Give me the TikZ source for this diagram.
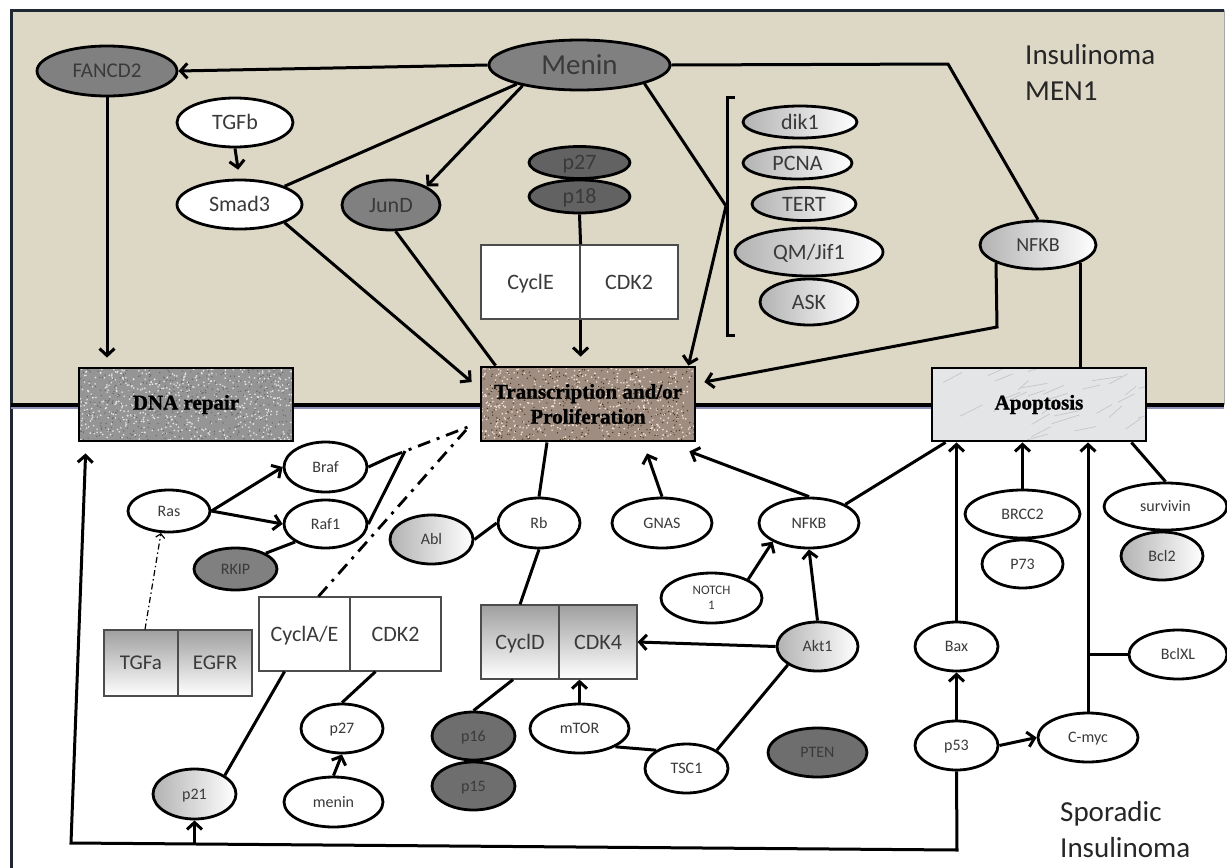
\documentclass[tikz,border=0pt]{standalone}
\usepackage{fontspec}
\setmainfont{Carlito}
\newfontfamily\boxfont[BoldFeatures={FakeBold=1.2}]{Liberation Serif}
\usetikzlibrary{shapes.geometric,arrows.meta,calc}
\definecolor{beige}{HTML}{DDD8C6}
\definecolor{framec}{HTML}{1F2733}
\definecolor{txtc}{HTML}{3A3A3A}
\definecolor{g1}{HTML}{808080}
\definecolor{g2}{HTML}{626262}
\definecolor{g3}{HTML}{6E6E6E}
\definecolor{dnac}{HTML}{959595}
\definecolor{trc}{HTML}{9E8D80}
\definecolor{apc}{HTML}{E3E5E7}
\newcommand\myfs[1]{\fontsize{#1}{#1}\selectfont}
\tikzset{
 f16/.style={font=\myfs{16}, text height=10.3pt, text depth=0pt},
 f20/.style={font=\myfs{20}, text height=12.9pt, text depth=0pt},
 f21/.style={font=\myfs{21}, text height=13.5pt, text depth=0pt},
 f22/.style={font=\myfs{22}, text height=14.2pt, text depth=0pt},
 f29/.style={font=\myfs{29}, text height=18.7pt, text depth=0pt},
 ell0/.style={ellipse, draw=black, line width=2.8pt, inner sep=0pt, text=txtc},
 ell/.style={ell0, f16},
 wh/.style={ell, fill=white},
 gr/.style={ell, fill=g1},
 dg/.style={ell, fill=g2},
 mg/.style={ell, fill=g3},
 sh/.style={ell, left color=gray!60, right color=white},
 sz/.style 2 args={minimum width=#1pt, minimum height=#2pt},
 conn/.style={line width=3pt},
 arr/.style={conn, -{Straight Barb[length=7pt,width=15pt]}},
 ddash/.style={line width=2.8pt, dash pattern=on 13pt off 7pt on 3pt off 7pt},
 tdash/.style={line width=1.2pt, dash pattern=on 6pt off 3pt on 1.5pt off 3pt, -{Straight Barb[length=4pt,width=9pt]}},
 pbox/.style={draw=black, line width=2.8pt, minimum width=214pt, minimum height=73pt, inner sep=0pt, font=\boxfont\bfseries\fontsize{21}{25}\selectfont, align=center},
 half/.style={rectangle, draw=gray!60!black, line width=1.2pt, inner sep=0pt, text=txtc, f22},
 halfw/.style={half, fill=white},
 halfs/.style={half, top color=gray!75, bottom color=white},
 lbl/.style={anchor=base west, text=black!85, font=\myfs{29}, inner sep=0pt},
}
\begin{document}
\begin{tikzpicture}[x=1pt,y=-1pt]
\useasboundingbox (0,0) rectangle (1227,868);
\fill[white] (0,0) rectangle (1227,868);
% panels
\fill[beige] (11,10) rectangle (1224,405);
\draw[line width=1pt, gray!70] (1224,10) -- (1224,405);
\draw[framec, line width=3pt] (11,868) -- (11,10) -- (1224,10);
\draw[line width=3.4pt] (11,405) -- (1224,405);
\draw[line width=1.4pt, blue!25!gray!70] (11,408) -- (1224,408);

% textured process boxes
\pgfmathsetseed{11}
\begin{scope}
\clip (79,368) rectangle (293,441);
\fill[dnac] (79,368) rectangle (293,441);
\foreach \i in {1,...,600}{\fill[gray!20] (79+rnd*214, 368+rnd*73) circle (0.9pt);}
\foreach \i in {1,...,450}{\fill[black!60] (79+rnd*214, 368+rnd*73) circle (0.7pt);}
\end{scope}
\begin{scope}
\clip (481,367) rectangle (695,441);
\fill[trc] (481,367) rectangle (695,441);
\foreach \i in {1,...,500}{\fill[brown!20!white] (481+rnd*214, 367+rnd*74) circle (0.9pt);}
\foreach \i in {1,...,400}{\fill[brown!40!black] (481+rnd*214, 367+rnd*74) circle (0.7pt);}
\end{scope}
\begin{scope}
\clip (932,368) rectangle (1146,441);
\fill[apc] (932,368) rectangle (1146,441);
\foreach \i in {1,...,30}{\draw[gray!45, line width=0.7pt] (932+rnd*214, 368+rnd*73) -- ++(10+rnd*20, -4-rnd*8);}
\end{scope}
\node[pbox] (dna) at (186,404.5) {DNA repair};
\node[pbox, minimum height=74pt] (trans) at (588,404) {Transcription and/or\\Proliferation};
\node[pbox] (apop) at (1039,404.5) {Apoptosis};

% top nodes
\node[gr, sz={140}{50}, f21] (fancd) at (107,71) {FANCD2};
\node[gr, sz={181}{50}, f29] (menin) at (579.5,65) {Menin};
\node[wh, sz={116}{49}, f22] (tgfb) at (235,122.5) {TGFb};
\node[wh, sz={125}{49}, f22] (smad) at (239.5,204.5) {Smad3};
\node[gr, sz={98}{50}, f22] (jund) at (391,205) {JunD};
\node[dg, sz={101}{32}, f22] (p27t) at (579.5,162.5) {p27};
\node[dg, sz={101}{33}, f22] (p18t) at (579.5,196.5) {p18};
\node[halfw, minimum width=99pt, minimum height=74pt] (cyce) at (530.5,282) {CyclE};
\node[halfw, minimum width=98pt, minimum height=74pt] (cdk2t) at (629,282) {CDK2};
\node[sh, sz={114}{32}, f22] (dik) at (800,122) {dik1};
\node[sh, sz={109}{32}, f22] (pcna) at (797.5,163) {PCNA};
\node[sh, sz={104}{33}, f22] (tert) at (804,204) {TERT};
\node[sh, sz={148}{48}, f22] (qm) at (809,252) {QM/Jif1};
\node[sh, sz={98}{46}, f22] (ask) at (809,302) {ASK};
\node[sh, sz={116}{48}, f20] (nfkbt) at (1038,245) {NFKB};
\draw[conn] (735,97) -- (727,97) -- (727,335) -- (735,335);
\coordinate (brk) at (726,206);
\node[lbl] (ins1) at (1025,64) {Insulinoma};
\node[lbl] (ins2) at (1025,100) {MEN1};

% top connectors
\draw[arr] (menin.west) -- (fancd.east);
\draw[conn] (menin.east) -- (948,64) -- (nfkbt.north);
\draw[conn] (menin.197) -- (smad.north east);
\draw[arr] (menin.200) -- (jund.north east);
\draw[arr] (menin.-16) -- (brk) -- ($(trans.north east)+(-8,0)$);
\draw[arr, shorten >=9pt] (fancd.south) -- (fancd.south |- dna.north);
\draw[arr, shorten >=9pt] (tgfb.south) -- (smad.north);
\draw[arr] (smad.south east) -- ($(trans.west)+(-8,-22)$);
\draw[conn] (jund.-80) -- ($(trans.north west)+(16,0)$);
\draw[conn] (p18t.south) -- (cyce.north east);
\draw[arr, shorten >=9pt] (cyce.south east) -- (cyce.south east |- trans.north);
\draw[arr] (nfkbt.south west) -- (997,327) -- ($(trans.east)+(8,-22)$);
\draw[conn] (nfkbt.south east) -- (nfkbt.south east |- apop.north);

% bottom nodes
\node[wh, sz={82}{42}] (ras) at (169,511) {Ras};
\node[wh, sz={83}{50}] (braf) at (325.5,467) {Braf};
\node[wh, sz={83}{48}] (raf) at (325.5,524) {Raf1};
\node[gr, sz={83}{42}] (rkip) at (235.5,569) {RKIP};
\node[sh, sz={83}{49}] (abl) at (431.5,539.5) {Abl};
\node[wh, sz={82}{50}] (rb) at (539,523) {Rb};
\node[wh, sz={100}{50}] (gnas) at (662,523) {GNAS};
\node[wh, sz={100}{50}] (nfkbb) at (809,523) {NFKB};
\node[ell0, fill=white, sz={101}{50}, font=\fontsize{13}{15}\selectfont, align=center] (notch) at (711.5,598) {NOTCH\\1};
\node[sh, sz={81}{49}] (akt) at (817.5,646.5) {Akt1};
\node[mg, sz={99}{49}] (pten) at (817.5,752.5) {PTEN};
\node[mg, sz={83}{48}] (p16) at (473.5,736) {p16};
\node[mg, sz={83}{48}] (p15) at (473.5,786) {p15};
\node[wh, sz={99}{49}] (mtor) at (579.5,728.5) {mTOR};
\node[wh, sz={83}{49}] (tsc) at (686.5,768.5) {TSC1};
\node[wh, sz={82}{49}] (p27b) at (342,728.5) {p27};
\node[wh, sz={99}{50}] (meninb) at (333.5,802) {menin};
\node[sh, sz={83}{50}] (p21) at (194.5,794) {p21};
\node[wh, sz={83}{49}] (p53) at (956.5,745.5) {p53};
\node[wh, sz={83}{49}] (bax) at (956.5,646.5) {Bax};
\node[wh, sz={100}{49}] (cmyc) at (1088,737.5) {C-myc};
\node[wh, sz={98}{49}] (bclxl) at (1178,654.5) {BclXL};
\node[wh, sz={115}{48}] (brcc) at (1022.5,514) {BRCC2};
\node[wh, sz={81}{48}] (p73) at (1022.5,564) {P73};
\node[wh, sz={123}{47}] (surv) at (1165.5,506.5) {survivin};
\node[sh, sz={82}{48}] (bcl2) at (1162,556) {Bcl2};
\node[halfs, minimum width=74pt, minimum height=66pt, f21] (tgfa) at (141,663) {TGFa};
\node[halfs, minimum width=74pt, minimum height=66pt, f21] (egfr) at (215,663) {EGFR};
\node[halfw, minimum width=91pt, minimum height=74pt] (cyca) at (304.5,634) {CyclA/E};
\node[halfw, minimum width=91pt, minimum height=74pt] (cdk2b) at (395.5,634) {CDK2};
\node[halfs, minimum width=78pt, minimum height=74pt] (cycd) at (520,642) {CyclD};
\node[halfs, minimum width=78pt, minimum height=74pt] (cdk4) at (598,642) {CDK4};
\node[lbl] (spo1) at (1060,821) {Sporadic};
\node[lbl] (spo2) at (1060,857) {Insulinoma};

% bottom connectors
\coordinate (bj) at (390,457);
\coordinate (rj) at (405,451);
\coordinate (tj1) at (473,425);
\coordinate (tj2) at (466,430);
\coordinate (fbr) at (957,850);
\coordinate (fbl) at (71,843);
\draw[arr] (ras.east) -- (braf.west);
\draw[arr] (ras.east) -- (raf.west);
\draw[conn] (rkip.north east) -- (raf.south west);
\draw[tdash] ($(tgfa.north)+(4,0)$) -- (ras.250);
\draw[conn] (braf.east) -- (bj);
\draw[ddash] (bj) -- (tj1);
\draw[conn] (raf.east) -- (rj);
\draw[ddash] ($(cyca.north)+(14,0)$) -- (tj2);
\draw[conn] (abl.east) -- (rb.west);
\draw[conn] (rb.north) -- ($(trans.south)+(-41,0)$);
\draw[arr] (gnas.north) -- ($(trans.south)+(59,11)$);
\draw[arr] (nfkbb.north) -- ($(trans.south east)+(-7,9)$);
\draw[conn] (nfkbb.north east) -- ($(apop.south west)+(15,0)$);
\draw[arr] (notch.north east) -- (nfkbb.south west);
\draw[arr] (akt.north) -- (nfkbb.south);
\draw[arr] (akt.west) -- (cdk4.east);
\draw[conn] (rb.south) -- (cycd.north);
\draw[conn] ($(cycd.south)+(-7,0)$) -- (p16.north);
\draw[arr] (mtor.north) -- (mtor.north |- cdk4.south);
\draw[conn] (mtor.south east) -- (tsc.north west);
\draw[conn] (tsc.north east) -- (akt.south west);
\draw[conn] ($(cdk2b.south)+(-20,0)$) -- (p27b.north);
\draw[arr] (meninb.north) -- (p27b.south);
\draw[conn] ($(cyca.south)+(-20,0)$) -- (p21.north east);
\draw[arr] (p53.south) -- (fbr) -- (fbl) -- ($(dna.south west)+(8,11)$);
\draw[arr] (p21.south |- fbl) -- (p21.south);
\draw[arr] (p53.north) -- (bax.south);
\draw[arr] (p53.east) -- (cmyc.west);
\draw[arr] (bax.north) -- (bax.north |- apop.south);
\draw[arr] (cmyc.north) -- (cmyc.north |- apop.south);
\draw[conn] (bclxl.west) -- (bclxl.west -| cmyc.north);
\draw[arr] (brcc.north) -- (brcc.north |- apop.south);
\draw[conn] (surv.north) -- ($(apop.south east)+(-16,0)$);
\end{tikzpicture}
\end{document}
